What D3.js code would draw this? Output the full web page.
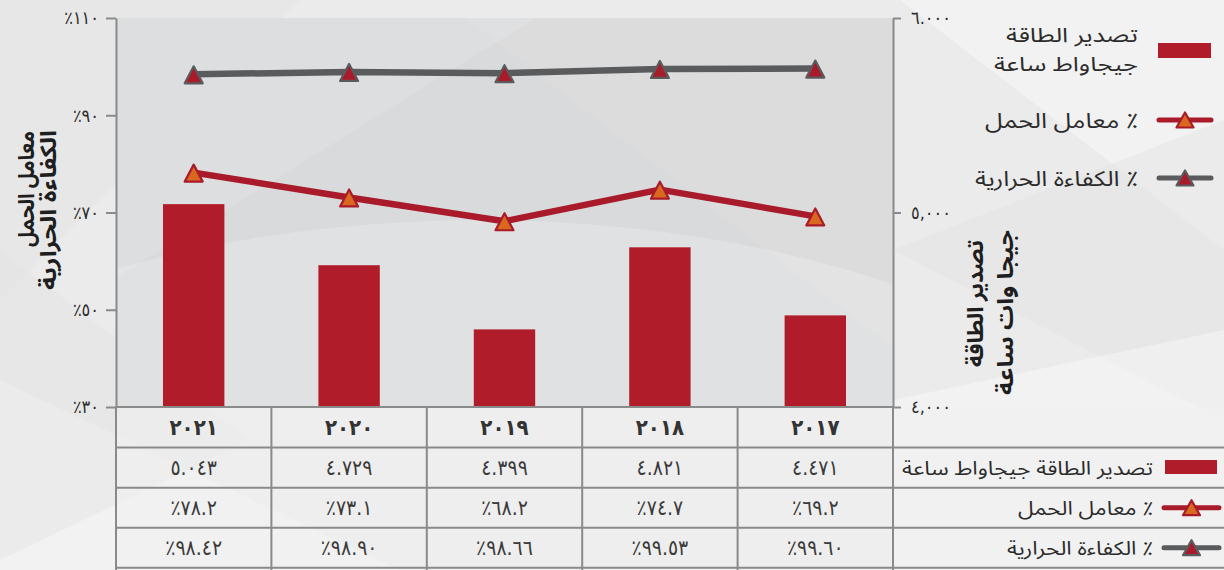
<!DOCTYPE html>
<html lang="ar">
<head>
<meta charset="utf-8">
<script src="https://cdn.jsdelivr.net/npm/d3@7"></script>
<style>
  html, body { margin: 0; padding: 0; background: #ebebeb; }
  svg { display: block; }
  .ar { font-family: "Noto Sans Arabic", "DejaVu Sans", sans-serif; }
  .num { font-family: "DejaVu Sans Condensed", "DejaVu Sans", sans-serif; direction: ltr; unicode-bidi: bidi-override; }
</style>
</head>
<body>
<svg id="chart" width="1224" height="570"></svg>
<script>
// ---------- data ----------
const years = ["2021", "2020", "2019", "2018", "2017"];
const energy = [5043, 4729, 4399, 4821, 4471];          // GWh exported
const loadFactor = [78.2, 73.1, 68.2, 74.7, 69.2];       // %
const efficiency = [98.42, 98.90, 98.66, 99.53, 99.60];  // %
const leftTicks = [30, 50, 70, 90, 110];
const rightTicks = [4000, 5000, 6000];
const rightTickLabels = ["٤,٠٠٠", "٥,٠٠٠", "٦.٠٠٠"];
const seriesNames = ["تصدير الطاقة جيجاواط ساعة", "معامل الحمل ٪", "الكفاءة الحرارية ٪"];
const legendEnergyLines = ["تصدير الطاقة", "جيجاواط ساعة"];
const leftTitle = ["معامل الحمل", "الكفاءة الحرارية"];
const rightTitle = ["تصدير الطاقة", "جيجا وات ساعة"];

// ---------- helpers ----------
const ar = s => String(s).replace(/[0-9]/g, d => String.fromCharCode(0x660 + (+d)));
const fmtEnergy = v => ar(Math.floor(v / 1000) + "." + String(v % 1000).padStart(3, "0"));
const fmtPct = (v, dec) => "٪" + ar(v.toFixed(dec));

const RED = "#b01c2a", LRED = "#a91b2a", GREY = "#5a5b5d", ORANGE = "#d9691f";
const GRID = "#8a8a8a", TXT = "#2b2b2b";

const svg = d3.select("#chart");
const W = 1224, H = 570;
const L = 116, R = 893, T = 18, B = 407;

function arText(g, txt, x, y, size, len, opts = {}) {
  const t = g.append("text").attr("class", "ar")
    .attr("x", x).attr("y", y)
    .attr("text-anchor", "end")
    .attr("font-size", size)
    .attr("fill", opts.fill || TXT)
    .attr("font-weight", opts.bold ? "bold" : "normal")
    .attr("textLength", len).attr("lengthAdjust", "spacingAndGlyphs")
    .text(txt);
  if (opts.transform) t.attr("transform", opts.transform);
  return t;
}

// ---------- background ----------
const defs = svg.append("defs");
defs.append("clipPath").attr("id", "plotClip").append("rect")
  .attr("x", L).attr("y", T).attr("width", R - L).attr("height", B - T);

svg.append("rect").attr("width", W).attr("height", H).attr("fill", "#ebebeb");
const deco = svg.append("g");
[
  [[0,0],[300,0],[0,300]],
  [[0,380],[400,570],[0,570]],
  [[0,250],[250,440],[0,560]],
  [[900,0],[1224,0],[1224,250]],
  [[893,250],[1224,120],[1224,420]],
  [[893,400],[1224,330],[1224,570],[893,570]]
].forEach((p, i) => deco.append("polygon")
  .attr("points", p.map(q => q.join(",")).join(" "))
  .attr("fill", i % 2 ? "#ffffff" : "#e3e3e3")
  .attr("opacity", i % 2 ? 0.35 : 0.45));

svg.append("rect").attr("x", L).attr("y", B).attr("width", W - L).attr("height", H - B)
  .attr("fill", "#f0f0f0").attr("opacity", 0.6);

svg.append("rect").attr("x", L).attr("y", T).attr("width", R - L).attr("height", B - T)
  .attr("fill", "#d9dadb");
const pd = svg.append("g").attr("clip-path", "url(#plotClip)");
pd.append("polygon").attr("points", `${L},${T} ${L+420},${T} ${L},${T+260}`).attr("fill", "#ffffff").attr("opacity", 0.12);
pd.append("polygon").attr("points", `${L+350},${T} ${R},${T} ${R},${T+330}`).attr("fill", "#ffffff").attr("opacity", 0.08);
pd.append("ellipse").attr("cx", 480).attr("cy", 620).attr("rx", 760).attr("ry", 400)
  .attr("fill", "#ffffff").attr("opacity", 0.2);

// ---------- scales ----------
const x = d3.scaleBand().domain(years).range([L, R]).padding(0);
const yL = d3.scaleLinear().domain([30, 110]).range([B, T]);
const yR = d3.scaleLinear().domain([4000, 6000]).range([B, T]);
const barW = x.bandwidth() * 0.395;

// ---------- bars ----------
svg.append("g").selectAll("rect").data(years).join("rect")
  .attr("x", d => x(d) + x.bandwidth() / 2 - barW / 2)
  .attr("y", (d, i) => yR(energy[i]))
  .attr("width", barW)
  .attr("height", (d, i) => B - yR(energy[i]))
  .attr("fill", RED);

// ---------- lines ----------
const triPath = (w, h) => `M0,${-h / 2}L${w / 2},${h / 2}L${-w / 2},${h / 2}Z`;
function drawLine(vals, stroke, markFill, markStroke) {
  const pts = years.map((y, i) => [x(y) + x.bandwidth() / 2, yL(vals[i])]);
  svg.append("path").attr("d", d3.line()(pts))
    .attr("fill", "none").attr("stroke", stroke).attr("stroke-width", 6.5)
    .attr("stroke-linejoin", "round");
  svg.append("g").selectAll("path").data(pts).join("path")
    .attr("d", triPath(18, 17))
    .attr("transform", d => `translate(${d[0]},${d[1] + 0.5})`)
    .attr("fill", markFill).attr("stroke", markStroke).attr("stroke-width", 2.2)
    .attr("stroke-linejoin", "round");
}
drawLine(efficiency, GREY, LRED, GREY);
drawLine(loadFactor, LRED, ORANGE, LRED);

// ---------- axes ----------
const axL = svg.append("g").attr("transform", `translate(${L},0)`)
  .call(d3.axisLeft(yL).tickValues(leftTicks).tickSize(10).tickSizeOuter(0).tickPadding(7)
    .tickFormat(d => "٪" + ar(d)));
const axR = svg.append("g").attr("transform", `translate(${R},0)`)
  .call(d3.axisRight(yR).tickValues(rightTicks).tickSize(8).tickSizeOuter(0).tickPadding(10)
    .tickFormat(d => rightTickLabels[rightTicks.indexOf(d)]));
[axL, axR].forEach(a => {
  a.select(".domain").attr("stroke", GRID).attr("stroke-width", 2);
  a.selectAll(".tick line").attr("stroke", GRID).attr("stroke-width", 2);
  a.selectAll(".tick text").attr("class", "num").attr("font-size", 18).attr("fill", TXT);
});

// axis titles (rotated, reading bottom-to-top)
const tg0 = svg.append("g");
arText(tg0, leftTitle[0], 0, 0, 22, 116, { bold: true, fill: "#1e1e1e", transform: "translate(34,131) rotate(-90)" });
arText(tg0, leftTitle[1], 0, 0, 22, 160, { bold: true, fill: "#1e1e1e", transform: "translate(56,130) rotate(-90)" });
arText(tg0, rightTitle[0], 0, 0, 22, 127, { bold: true, fill: "#1e1e1e", transform: "translate(983,240) rotate(-90)" });
arText(tg0, rightTitle[1], 0, 0, 22, 165, { bold: true, fill: "#1e1e1e", transform: "translate(1013,230) rotate(-90)" });

// ---------- top-right legend ----------
const lg = svg.append("g");
lg.append("rect").attr("x", 1158).attr("y", 43).attr("width", 53).attr("height", 15).attr("fill", RED);
arText(lg, legendEnergyLines[0], 1138, 42, 20, 132);
arText(lg, legendEnergyLines[1], 1138, 71, 20, 144);

function legendLine(g, x0, x1, y, stroke, mf, ms) {
  g.append("line").attr("x1", x0).attr("x2", x1).attr("y1", y).attr("y2", y)
    .attr("stroke", stroke).attr("stroke-width", 5).attr("stroke-linecap", "round");
  g.append("path").attr("d", triPath(17, 15)).attr("transform", `translate(${(x0 + x1) / 2},${y})`)
    .attr("fill", mf).attr("stroke", ms).attr("stroke-width", 2.2).attr("stroke-linejoin", "round");
}
legendLine(lg, 1159, 1211, 120, LRED, ORANGE, LRED);
arText(lg, seriesNames[1], 1138, 128, 21, 153);
legendLine(lg, 1159, 1211, 178, GREY, LRED, GREY);
arText(lg, seriesNames[2], 1138, 186, 21, 163);

// ---------- data table ----------
const rowY = [407, 447.5, 487.7, 527.7, 567.7];
const tg = svg.append("g");
tg.append("line").attr("x1", L).attr("x2", R).attr("y1", rowY[0]).attr("y2", rowY[0]);
rowY.slice(1).forEach(y => tg.append("line").attr("x1", L).attr("x2", W).attr("y1", y).attr("y2", y));
years.forEach(y => tg.append("line").attr("x1", x(y)).attr("x2", x(y)).attr("y1", B).attr("y2", H));
tg.append("line").attr("x1", R).attr("x2", R).attr("y1", B).attr("y2", H);
tg.selectAll("line").attr("stroke", GRID).attr("stroke-width", 2);

const cx = d => x(d) + x.bandwidth() / 2;
const mid = i => (rowY[i] + rowY[i + 1]) / 2;
tg.append("g").selectAll("text").data(years).join("text")
  .attr("class", "num").attr("x", cx).attr("y", mid(0) + 8).attr("text-anchor", "middle")
  .attr("font-size", 22).attr("font-weight", "bold").attr("fill", "#333").text(d => ar(d));
tg.append("g").selectAll("text").data(years).join("text")
  .attr("class", "num").attr("x", cx).attr("y", mid(1) + 7).attr("text-anchor", "middle")
  .attr("font-size", 21).attr("fill", "#3a3a3a").text((d, i) => fmtEnergy(energy[i]));
tg.append("g").selectAll("text").data(years).join("text")
  .attr("class", "num").attr("x", cx).attr("y", mid(2) + 7).attr("text-anchor", "middle")
  .attr("font-size", 21).attr("fill", "#3a3a3a").text((d, i) => fmtPct(loadFactor[i], 1));
tg.append("g").selectAll("text").data(years).join("text")
  .attr("class", "num").attr("x", cx).attr("y", mid(3) + 7).attr("text-anchor", "middle")
  .attr("font-size", 21).attr("fill", "#3a3a3a").text((d, i) => fmtPct(efficiency[i], 2));

// table legend column
tg.append("rect").attr("x", 1165).attr("y", 460).attr("width", 52).attr("height", 14).attr("fill", RED);
arText(tg, seriesNames[0], 1153, mid(1) + 7, 19, 251);
legendLine(tg, 1164, 1219, mid(2), LRED, ORANGE, LRED);
arText(tg, seriesNames[1], 1153, mid(2) + 7, 19, 135);
legendLine(tg, 1164, 1219, mid(3), GREY, LRED, GREY);
arText(tg, seriesNames[2], 1153, mid(3) + 7, 19, 146);
</script>
</body>
</html>
